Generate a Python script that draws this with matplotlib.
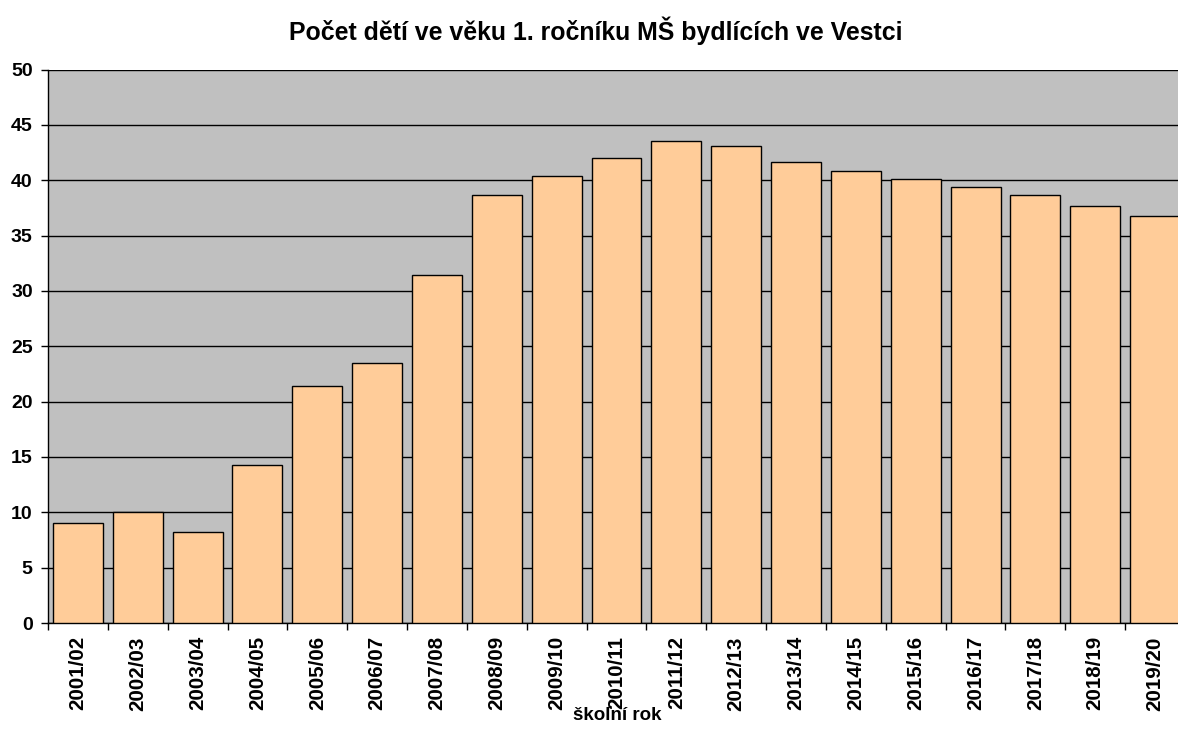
import matplotlib
matplotlib.use("Agg")
import matplotlib.pyplot as plt
import numpy as np

categories = ["2001/02", "2002/03", "2003/04", "2004/05", "2005/06", "2006/07",
              "2007/08", "2008/09", "2009/10", "2010/11", "2011/12", "2012/13",
              "2013/14", "2014/15", "2015/16", "2016/17", "2017/18", "2018/19", "2019/20"]
values = [9.0, 10.0, 8.25, 14.25, 21.45, 23.5, 31.4, 38.7, 40.4, 42.03, 43.56, 43.1,
          41.65, 40.8, 40.1, 39.43, 38.65, 37.66, 36.73]
yticks = [0, 5, 10, 15, 20, 25, 30, 35, 40, 45, 50]

plt.rcParams['font.family'] = ['Liberation Sans', 'DejaVu Sans']

W, H = 1178, 729
fig = plt.figure(figsize=(W / 100, H / 100), dpi=100)
left, right, top, bottom = 48, 1185, 69.5, 623
ax = fig.add_axes([left / W, 1 - bottom / H, (right - left) / W, (bottom - top) / H])
ax.set_facecolor("#C0C0C0")

x = np.arange(len(categories))
ax.set_axisbelow(True)
ax.yaxis.grid(True, color="black", linewidth=1)
ax.bar(x, values, width=0.835, color="#FFCC99", edgecolor="black", linewidth=1, zorder=3)

ax.set_xlim(-0.5, len(categories) - 0.5)
ax.set_ylim(0, 50)
ax.set_yticks(yticks)
ax.set_yticklabels([str(v) for v in yticks], fontsize=14, fontweight="bold")
ax.set_xticks(x)
ax.set_xticklabels(categories, rotation=90, fontsize=14.8, fontweight="bold")
ax.tick_params(axis="x", length=0, pad=9.5)
ax.set_xticks(np.arange(len(categories) + 1) - 0.5, minor=True)
ax.tick_params(axis="x", which="minor", length=5, width=1, color="black")
ax.tick_params(axis="y", length=5, width=1, color="black", pad=6)

for s in ["top", "right"]:
    ax.spines[s].set_visible(False)
ax.spines["left"].set_linewidth(1)
ax.spines["bottom"].set_linewidth(1)

fig.text(595.5 / W, 1 - 31 / H, "Počet dětí ve věku 1. ročníku MŠ bydlících ve Vestci",
         ha="center", va="center", fontsize=17.9, fontweight="bold")
fig.text(617 / W, 1 - 716 / H, "školní rok", ha="center", va="center",
         fontsize=13.5, fontweight="bold")

fig.savefig("out.png", dpi=100)
